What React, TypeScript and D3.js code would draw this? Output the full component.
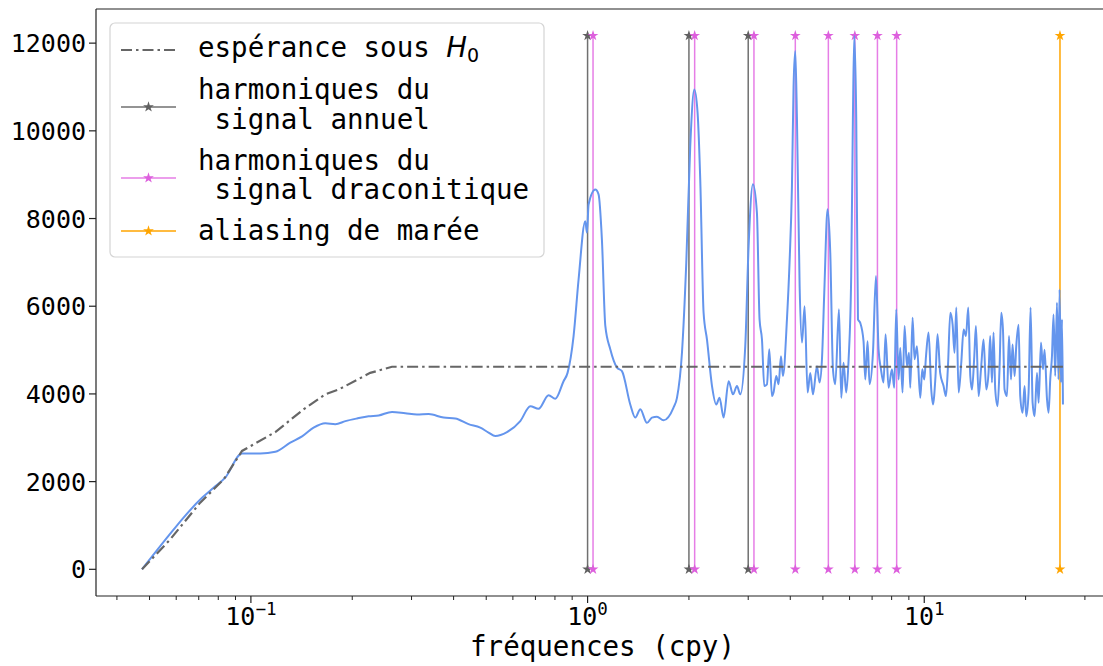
import * as d3 from 'd3';

// spectre (cpy, puissance)
const freqs = [
  0.0475, 0.0569, 0.0631, 0.0716, 0.0775, 0.0839, 0.0941, 0.1067, 0.1182, 0.1309,
  0.1419, 0.1535, 0.1663, 0.1781, 0.1908, 0.2066, 0.2237, 0.2396, 0.2625, 0.2874,
  0.3114, 0.3373, 0.3736, 0.4046, 0.443, 0.4801, 0.508, 0.532, 0.5762, 0.6311,
  0.676, 0.7152, 0.766, 0.802, 0.8485, 0.872, 0.9087, 0.9403, 0.9843, 0.9959,
  1.0069, 1.054, 1.078, 1.103, 1.129, 1.168, 1.223, 1.265, 1.339, 1.386,
  1.434, 1.501, 1.553, 1.607, 1.681, 1.8, 1.843, 1.907, 1.964, 2.018,
  2.075, 2.122, 2.161, 2.211, 2.263, 2.342, 2.411, 2.466, 2.535, 2.624,
  2.703, 2.778, 2.842, 2.94, 3.008, 3.099, 3.184, 3.242, 3.296, 3.348,
  3.41, 3.465, 3.529, 3.567, 3.634, 3.693, 3.753, 3.804, 3.91, 3.98,
  4.046, 4.091, 4.139, 4.187, 4.264, 4.333, 4.412, 4.503, 4.586, 4.671,
  4.8, 4.887, 4.968, 5.047, 5.162, 5.258, 5.356, 5.441, 5.58, 5.668,
  5.758, 5.865, 5.961, 6.067, 6.138, 6.195, 6.281, 6.355, 6.455, 6.602,
  6.68, 6.786, 6.879, 7.041, 7.187, 7.317, 7.437, 7.57, 7.675, 7.834,
  8.018, 8.145, 8.257, 8.389, 8.487, 8.621, 8.741, 8.885, 9.007, 9.088,
  9.232, 9.358, 9.513, 9.73, 9.865, 10.0, 10.12, 10.3, 10.49, 10.61,
  10.8, 10.95, 11.15, 11.41, 11.6, 11.76, 11.95, 12.14, 12.3, 12.45,
  12.65, 12.88, 13.09, 13.3, 13.51, 13.7, 13.86, 14.08, 14.24, 14.5,
  14.74, 15.0, 15.28, 15.52, 15.7, 15.89, 16.06, 16.25, 16.51, 16.73,
  16.93, 17.13, 17.32, 17.61, 17.85, 18.1, 18.29, 18.55, 18.76, 19.06,
  19.28, 19.59, 19.86, 20.09, 20.41, 20.69, 20.98, 21.27, 21.62, 21.86,
  22.22, 22.52, 22.77, 23.15, 23.4, 23.67, 23.95, 24.21, 24.49, 24.78,
  25.05, 25.23, 25.47, 25.65, 25.82,
];
const power = [
  0, 760, 1180, 1630, 1860, 2090, 2640, 2640, 2680, 2890,
  3030, 3230, 3330, 3310, 3380, 3440, 3490, 3510, 3590, 3560,
  3530, 3540, 3460, 3440, 3310, 3230, 3120, 3040, 3130, 3380,
  3720, 3660, 3970, 3890, 4290, 4480, 5320, 6610, 7940, 7680,
  8320, 8660, 8550, 7520, 5550, 5020, 4600, 4520, 3760, 3460,
  3650, 3340, 3460, 3480, 3400, 3690, 3910, 4940, 6990, 9650,
  10940, 10410, 8890, 5850, 5240, 4180, 3760, 3910, 3460, 4290,
  3990, 4180, 3990, 5090, 7370, 8780, 8130, 5700, 5240, 4180,
  4220, 5020, 3950, 4030, 4410, 4220, 4860, 4410, 5700, 6990,
  8740, 11020, 11820, 10260, 6460, 5170, 6000, 4030, 4480, 3990,
  4630, 4260, 4790, 6310, 8210, 7220, 4560, 4220, 5930, 3910,
  4710, 4030, 4790, 6690, 10260, 12170, 10260, 5700, 5620, 5200,
  4330, 5200, 4220, 4940, 6690, 5010, 4560, 4260, 5360, 4140,
  4560, 4140, 5930, 4330, 5050, 4030, 5550, 4630, 4940, 4140,
  5740, 4790, 5090, 3910, 4560, 4330, 4860, 5400, 4100, 3760,
  4410, 5360, 4480, 4180, 3950, 4630, 5850, 5580, 4940, 5970,
  4030, 4710, 5470, 5320, 5970, 4410, 4100, 4860, 5550, 3950,
  4560, 5240, 4100, 4480, 5320, 4260, 5400, 4100, 3720, 4560,
  5850, 5470, 4100, 3950, 5320, 4330, 5130, 4410, 5090, 5580,
  3950, 3570, 4180, 3490, 4030, 5970, 3800, 3490, 4480, 3800,
  5170, 4560, 5010, 3880, 3570, 4330, 4860, 5810, 4410, 6080,
  4330, 6380, 4260, 5700, 3760,
];

// espérance sous H0
const h0Freqs = [0.0475, 0.0576, 0.0707, 0.083, 0.0941, 0.1182, 0.1434, 0.1663, 0.1822, 0.2262, 0.2625, 25.82];
const h0Values = [0, 684, 1520, 2050, 2700, 3130, 3650, 3990, 4100, 4480, 4620, 4620];

const annualHarmonics = [1, 2, 3];
const draconiticHarmonics = [1.038, 2.08, 3.12, 4.14, 5.19, 6.22, 7.26, 8.28];
const tidalAliasing = [25.3];

const yTicks = [0, 2000, 4000, 6000, 8000, 10000, 12000];
const xTickExponents = [-1, 0, 1];

const W = 1103;
const H = 666;
const left = 96;
const right = 1109;
const top = 9;
const bottom = 596;
const MONO = '"DejaVu Sans Mono", monospace';
const TICK_FS = 25;

export default function App() {
  const lo = Math.log10(d3.min(freqs)!);
  const hi = Math.log10(d3.max(freqs)!);
  const pad = 0.05 * (hi - lo);
  const x = d3.scaleLog().domain([10 ** (lo - pad), 10 ** (hi + pad)]).range([left, right]);

  const pmax = d3.max(power)!;
  const y = d3.scaleLinear().domain([-0.05 * pmax, 1.05 * pmax]).range([bottom, top]);

  const spectrum = d3.line<number>()
    .x((_, i) => x(freqs[i]))
    .y((d) => y(d))
    .curve(d3.curveMonotoneX);
  const h0Line = d3.line<number>()
    .x((_, i) => x(h0Freqs[i]))
    .y((d) => y(d));

  const star = d3.symbol(d3.symbolStar).size(36)()!;

  // ticks mineurs du log
  const minor: number[] = [];
  for (let e = -2; e <= 1; e++) {
    for (let m = 2; m <= 9; m++) {
      const v = m * 10 ** e;
      if (v >= x.domain()[0] && v <= x.domain()[1]) minor.push(v);
    }
  }

  const vlines = (vals: number[], color: string, marker: string, width: number) =>
    vals.map((f, i) => (
      <g key={color + i}>
        <line x1={x(f)} x2={x(f)} y1={y(0)} y2={y(pmax)} stroke={color} strokeWidth={width} />
        <path d={star} transform={`translate(${x(f)},${y(0)})`} fill={marker} />
        <path d={star} transform={`translate(${x(f)},${y(pmax)})`} fill={marker} />
      </g>
    ));

  const legendText = { fontFamily: MONO, fontSize: 27.5, fill: '#000', whiteSpace: 'pre' as const };

  return (
    <svg width={W} height={H} style={{ position: 'absolute', left: 0, top: 0, background: '#fff' }}>
      <rect width={W} height={H} fill="#fff" />

      {vlines(annualHarmonics, '#707070', '#606060', 1.5)}
      {vlines(draconiticHarmonics, '#e67ee6', '#dd5fdd', 1.5)}
      {vlines(tidalAliasing, '#ffa500', '#ffa500', 1.5)}

      <path d={spectrum(power)!} fill="none" stroke="#6495ed" strokeWidth={2} strokeLinejoin="round" />
      <path
        d={h0Line(h0Values)!}
        fill="none"
        stroke="#666"
        strokeWidth={2.2}
        strokeDasharray="11 4 2.5 4"
      />

      {/* axes */}
      <line x1={left} x2={left} y1={top} y2={bottom} stroke="#222" strokeWidth={1.2} />
      <line x1={left} x2={right} y1={bottom} y2={bottom} stroke="#222" strokeWidth={1.2} />
      <line x1={left} x2={right} y1={top} y2={top} stroke="#222" strokeWidth={1.2} />

      {yTicks.map((t) => (
        <g key={t}>
          <line x1={left - 7} x2={left} y1={y(t)} y2={y(t)} stroke="#222" strokeWidth={1.2} />
          <text
            x={left - 10}
            y={y(t) + TICK_FS * 0.36}
            textAnchor="end"
            fontFamily={MONO}
            fontSize={TICK_FS}
            fill="#000"
          >
            {d3.format('d')(t)}
          </text>
        </g>
      ))}

      {minor.map((v) => (
        <line key={v} x1={x(v)} x2={x(v)} y1={bottom} y2={bottom + 4} stroke="#222" strokeWidth={1} />
      ))}
      {xTickExponents.map((e) => (
        <g key={e}>
          <line x1={x(10 ** e)} x2={x(10 ** e)} y1={bottom} y2={bottom + 7} stroke="#222" strokeWidth={1.2} />
          <text x={x(10 ** e)} y={625} textAnchor="middle" fontFamily={MONO} fontSize={TICK_FS} fill="#000">
            10
            <tspan fontSize={17.5} dy={-10}>
              {e < 0 ? '\u2212' + Math.abs(e) : String(e)}
            </tspan>
          </text>
        </g>
      ))}
      <text x={(left + right) / 2} y={656} textAnchor="middle" fontFamily={MONO} fontSize={27.5} fill="#000">
        fréquences (cpy)
      </text>

      {/* légende */}
      <rect x={110} y={23} width={434} height={234} rx={5} fill="#fff" fillOpacity={0.8} stroke="#d4d4d4" strokeWidth={1.2} />
      <line x1={121} x2={176} y1={50} y2={50} stroke="#666" strokeWidth={2.2} strokeDasharray="11 4 2.5 4" />
      <text x={198} y={57} style={legendText}>
        espérance sous{' '}
        <tspan fontFamily='"DejaVu Sans", sans-serif' fontStyle="italic">H</tspan>
        <tspan fontFamily='"DejaVu Sans", sans-serif' fontSize={19} dy={5}>0</tspan>
      </text>

      <line x1={121} x2={176} y1={107} y2={107} stroke="#707070" strokeWidth={1.5} />
      <path d={star} transform="translate(148.5,107)" fill="#606060" />
      <text x={198} y={99} style={legendText}>harmoniques du</text>
      <text x={198} y={128.5} style={legendText}> signal annuel</text>

      <line x1={121} x2={176} y1={178} y2={178} stroke="#e67ee6" strokeWidth={1.5} />
      <path d={star} transform="translate(148.5,178)" fill="#dd5fdd" />
      <text x={198} y={169.5} style={legendText}>harmoniques du</text>
      <text x={198} y={199} style={legendText}> signal draconitique</text>

      <line x1={121} x2={176} y1={231} y2={231} stroke="#ffa500" strokeWidth={1.5} />
      <path d={star} transform="translate(148.5,231)" fill="#ffa500" />
      <text x={198} y={240} style={legendText}>aliasing de marée</text>
    </svg>
  );
}
